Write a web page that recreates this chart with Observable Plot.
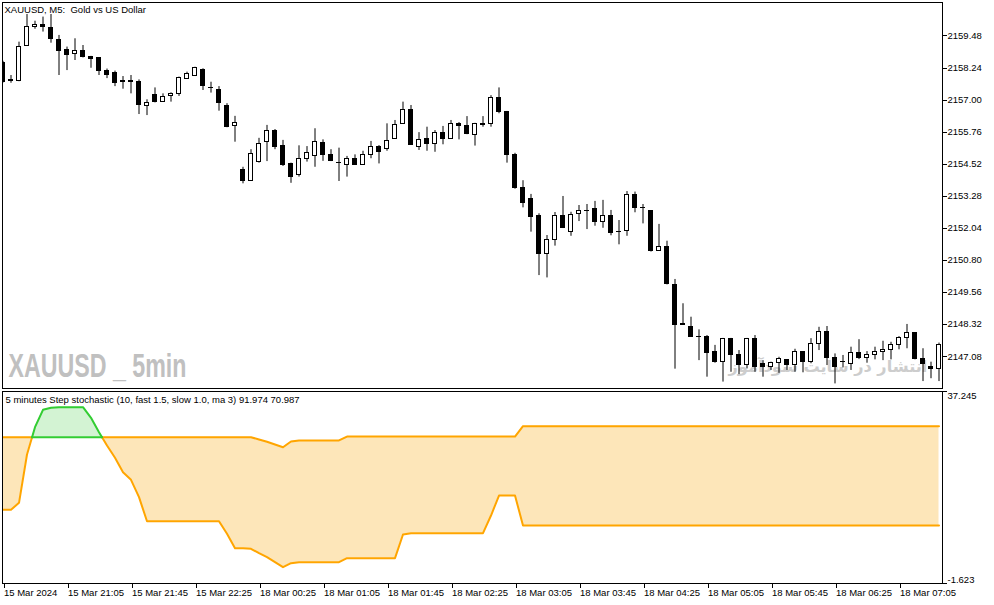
<!DOCTYPE html>
<html><head><meta charset="utf-8">
<script src="https://cdn.jsdelivr.net/npm/d3@7"></script>
<script src="https://cdn.jsdelivr.net/npm/@observablehq/plot@0.6"></script>
<style>
body{margin:0;background:#fff;}
#chart{width:994px;}
#chart svg{display:block;}
</style></head><body><div id="chart"></div>
<script>
// ---- price data (5-minute candles, index 0 = 15 Mar 20:25) ----
const open = [2158.43,2157.78,2157.73,2159.10,2159.83,2159.92,2159.80,2159.33,2158.94,2158.79,
2158.88,2158.66,2158.62,2158.14,2158.04,2157.72,2157.72,2157.68,2156.78,2157.18,
2156.93,2157.14,2157.22,2157.82,2157.94,2158.18,2157.48,2157.37,2156.78,2155.99,
2154.28,2153.88,2154.59,2155.39,2155.82,2155.24,2154.51,2154.11,2154.73,2154.84,
2155.35,2154.89,2154.57,2154.50,2154.71,2154.50,2154.88,2155.20,2155.12,2155.50,
2156.08,2156.60,2155.20,2155.48,2155.31,2155.74,2155.50,2156.08,2156.00,2155.66,
2156.05,2156.08,2157.09,2156.55,2154.89,2153.60,2153.18,2152.50,2151.05,2151.57,
2152.50,2151.89,2152.60,2152.72,2152.79,2152.30,2152.53,2151.90,2151.94,2153.34,
2152.82,2152.69,2151.18,2151.32,2149.85,2148.32,2148.24,2147.83,2147.85,2147.24,
2146.86,2147.77,2147.15,2146.76,2147.77,2146.79,2146.67,2146.83,2146.95,2146.76,
2147.25,2146.86,2147.57,2148.02,2147.03,2146.86,2146.79,2147.22,2147.03,2147.15,
2147.25,2147.34,2147.51,2147.80,2147.99,2146.99,2146.69,2146.60];
const high = [2158.50,2157.95,2159.24,2160.31,2160.05,2160.21,2160.31,2159.50,2159.05,2159.37,
2159.11,2158.69,2158.63,2158.20,2158.12,2157.91,2157.95,2157.78,2157.01,2157.47,
2157.24,2157.28,2157.89,2158.08,2158.27,2158.21,2157.69,2157.52,2156.86,2156.37,
2154.40,2155.08,2155.52,2156.02,2155.86,2155.44,2154.56,2155.23,2155.20,2155.89,
2155.46,2155.08,2155.14,2154.82,2154.88,2155.02,2155.40,2155.24,2156.08,2156.21,
2156.92,2156.79,2155.74,2155.95,2155.82,2155.98,2156.21,2156.13,2156.36,2156.10,
2156.36,2157.17,2157.47,2156.56,2154.94,2153.88,2153.35,2152.60,2151.76,2152.65,
2153.27,2152.66,2152.92,2152.96,2153.08,2153.12,2152.73,2152.34,2153.46,2153.44,
2152.96,2152.70,2152.19,2151.54,2150.06,2149.12,2148.60,2148.11,2147.89,2147.51,
2147.78,2147.78,2147.31,2147.78,2147.89,2146.92,2146.86,2147.05,2146.96,2147.36,
2147.27,2147.77,2148.21,2148.24,2147.18,2147.12,2147.44,2147.73,2147.27,2147.44,
2147.67,2147.63,2147.85,2148.32,2148.00,2147.38,2146.86,2147.60];
const low = [2157.66,2157.65,2157.71,2159.10,2159.74,2159.63,2159.20,2157.95,2158.14,2158.53,
2158.63,2158.23,2157.95,2157.83,2157.52,2157.42,2157.24,2156.44,2156.40,2156.89,
2156.91,2156.92,2157.14,2157.80,2157.91,2157.37,2157.27,2156.57,2155.93,2155.37,
2153.76,2153.88,2154.56,2154.62,2155.08,2154.43,2153.78,2154.02,2154.60,2154.40,
2154.63,2154.62,2153.85,2154.02,2154.50,2154.49,2154.73,2154.53,2155.02,2155.49,
2156.07,2155.26,2155.05,2155.02,2154.98,2155.27,2155.49,2155.46,2155.66,2155.22,
2155.95,2155.95,2156.47,2154.56,2153.55,2152.83,2151.89,2150.21,2150.12,2151.35,
2152.03,2151.73,2152.30,2151.99,2152.12,2152.04,2151.75,2151.40,2151.73,2152.64,
2152.21,2151.12,2151.18,2149.85,2146.59,2148.28,2147.82,2146.92,2146.28,2146.82,
2146.09,2146.47,2146.38,2146.60,2146.47,2146.28,2146.54,2146.43,2146.54,2146.47,
2146.45,2146.80,2147.31,2146.73,2146.02,2146.64,2146.54,2146.96,2146.82,2146.95,
2146.92,2146.95,2147.34,2147.38,2146.95,2146.11,2146.22,2146.11];
const close = [2157.71,2157.73,2159.05,2159.83,2159.92,2159.83,2159.36,2158.89,2158.75,2158.88,
2158.66,2158.57,2158.12,2157.98,2157.67,2157.70,2157.71,2156.79,2156.89,2156.92,
2157.13,2157.24,2157.86,2157.99,2158.25,2157.54,2157.46,2156.90,2155.95,2156.12,
2153.88,2154.92,2155.31,2155.82,2155.20,2154.47,2154.02,2154.73,2154.96,2155.36,
2154.88,2154.63,2154.56,2154.73,2154.50,2154.88,2155.20,2154.98,2155.40,2156.02,
2156.60,2155.27,2155.46,2155.31,2155.73,2155.49,2156.08,2156.00,2155.69,2156.08,
2156.06,2157.09,2156.55,2154.88,2153.59,2153.03,2152.47,2151.03,2151.57,2152.50,
2152.04,2152.57,2152.72,2152.71,2152.28,2152.52,2151.85,2151.91,2153.34,2152.83,
2152.81,2151.15,2151.31,2149.89,2148.31,2148.31,2147.83,2147.82,2147.22,2146.88,
2147.77,2147.15,2146.76,2147.77,2146.67,2146.67,2146.83,2146.99,2146.76,2147.26,
2146.86,2147.57,2148.02,2147.01,2146.67,2146.85,2147.22,2147.01,2147.15,2147.25,
2147.34,2147.51,2147.80,2147.99,2146.99,2146.80,2146.59,2147.51];

// ---- Step stochastic lines (values on the sub-window scale) ----
const fastLine = [13.30,13.30,14.71,24.49,30.02,33.54,33.95,34.07,34.07,34.07,
34.07,31.92,29.01,26.31,23.82,20.91,19.37,15.85,10.99,10.99,
10.99,10.99,10.99,10.99,10.99,10.99,10.99,10.99,8.44,5.52,
5.52,5.40,4.51,3.70,2.69,1.68,2.49,2.69,2.69,2.69,
2.69,2.69,2.69,3.50,3.50,3.50,3.50,3.50,3.50,3.50,
8.30,8.56,8.56,8.56,8.56,8.56,8.56,8.56,8.56,8.56,
8.56,12.14,16.19,16.19,16.19,10.12,10.12,10.12,10.12,10.12,
10.12,10.12,10.12,10.12,10.12,10.12,10.12,10.12,10.12,10.12,
10.12,10.12,10.12,10.12,10.12,10.12,10.12,10.12,10.12,10.12,
10.12,10.12,10.12,10.12,10.12,10.12,10.12,10.12,10.12,10.12,
10.12,10.12,10.12,10.12,10.12,10.12,10.12,10.12,10.12,10.12,
10.12,10.12,10.12,10.12,10.12,10.12,10.12,10.12];
const slowLine = [27.99,27.99,27.99,27.99,27.99,27.99,27.99,27.99,27.99,27.99,
27.99,27.99,27.99,27.99,27.99,27.99,27.99,27.99,27.99,27.99,
27.99,27.99,27.99,27.99,27.99,27.99,27.99,27.99,27.99,27.99,
27.99,27.99,27.53,27.06,26.52,25.97,27.12,27.33,27.33,27.33,
27.33,27.33,27.33,28.13,28.13,28.13,28.13,28.13,28.13,28.13,
28.13,28.13,28.13,28.13,28.13,28.13,28.13,28.13,28.13,28.13,
28.13,28.13,28.13,28.13,28.13,30.22,30.22,30.22,30.22,30.22,
30.22,30.22,30.22,30.22,30.22,30.22,30.22,30.22,30.22,30.22,
30.22,30.22,30.22,30.22,30.22,30.22,30.22,30.22,30.22,30.22,
30.22,30.22,30.22,30.22,30.22,30.22,30.22,30.22,30.22,30.22,
30.22,30.22,30.22,30.22,30.22,30.22,30.22,30.22,30.22,30.22,
30.22,30.22,30.22,30.22,30.22,30.22,30.22,30.22];

// ---- axis ticks & labels ----
const priceTicks = [2147.08,2148.32,2149.56,2150.80,2152.04,2153.28,2154.52,2155.76,2157.00,2158.24,2159.48];
const stochTicks = [37.245,-1.623];
const timeTickIdx = [0,8,16,24,32,40,48,56,64,72,80,88,96,104,112];
const timeLabels = ["15 Mar 2024","15 Mar 21:05","15 Mar 21:45","15 Mar 22:25","18 Mar 00:25","18 Mar 01:05",
"18 Mar 01:45","18 Mar 02:25","18 Mar 03:05","18 Mar 03:45","18 Mar 04:25","18 Mar 05:05","18 Mar 05:45",
"18 Mar 06:25","18 Mar 07:05"];
const titleText = "XAUUSD, M5:\u00a0 Gold vs US Dollar";
const stochText = "5 minutes Step stochastic (10, fast 1.5, slow 1.0, ma 3) 91.974 70.987";
const wmText = "XAUUSD _ 5min";
const wmFa = "انتشار در سایت سودآموز";

// ---- derived tables ----
const candles = open.map((o,i)=>({i, open:o, high:high[i], low:low[i], close:close[i]}));
const bull = candles.filter(d=>d.close>d.open);
const bear = candles.filter(d=>d.close<=d.open);

function buildRuns(a,b){
  const pts=[]; let run=0; let up=a[0]>b[0];
  pts.push({x:0,a:a[0],b:b[0],run,up});
  for(let i=1;i<a.length;i++){
    const u=a[i]>b[i];
    if(u!==up){
      const d0=a[i-1]-b[i-1], d1=a[i]-b[i];
      const t=d0/(d0-d1);
      const yc=a[i-1]+t*(a[i]-a[i-1]);
      pts.push({x:i-1+t,a:yc,b:yc,run,up});
      run++; up=u;
      pts.push({x:i-1+t,a:yc,b:yc,run,up});
    }
    pts.push({x:i,a:a[i],b:b[i],run,up});
  }
  return pts;
}
const runs = buildRuns(fastLine, slowLine);
const greenPts = runs.filter(d=>d.up), orangePts = runs.filter(d=>!d.up);

const FONT = "Liberation Sans, Arial, sans-serif";
const W = 994;
const xDomain = [-0.0625, 117.4375];
const ORANGE="#ffa500", ORANGE_FILL="#fde6b9", GREEN="#32cd32", GREEN_FILL="#d3f3d3";

const topPane = Plot.plot({
  width:W, height:390, marginLeft:2, marginRight:52, marginTop:2, marginBottom:2,
  style:{background:"white", fontFamily:FONT, fontSize:"9.5px", color:"black", overflow:"visible"},
  x:{type:"linear", domain:xDomain, axis:null},
  y:{type:"linear", domain:[2145.842, 2160.774], label:null},
  marks:[
    Plot.text([wmText],{frameAnchor:"bottom-left", dx:6, dy:-22, text:d=>d, fill:"#c0c0c0", fontSize:33, fontWeight:"bold", fontFamily:FONT, textAnchor:"start", lineAnchor:"middle", ariaDescription:"wm1"}),
    Plot.text([wmFa],{frameAnchor:"bottom-left", dx:726, dy:-22, text:d=>d, fill:"#cdcdcd", fontSize:26, fontWeight:"bold", fontFamily:"DejaVu Sans", textAnchor:"start", lineAnchor:"middle", ariaDescription:"wm2"}),
    Plot.ruleX(candles,{x:"i", y1:"low", y2:"high", stroke:"black", strokeWidth:1, clip:true}),
    Plot.rect(bull,{x1:d=>d.i-0.25, x2:d=>d.i+0.25, y1:"open", y2:"close", fill:"white", stroke:"black", strokeWidth:1, shapeRendering:"crispEdges", clip:true}),
    Plot.rect(bear,{x1:d=>d.i-0.25, x2:d=>d.i+0.25, y1:"open", y2:"close", fill:"black", stroke:"black", strokeWidth:1, shapeRendering:"crispEdges", clip:true}),
    Plot.frame({stroke:"black", shapeRendering:"crispEdges"}),
    Plot.axisY({anchor:"right", ticks:priceTicks, tickFormat:d3.format(".2f"), tickSize:4, tickPadding:1, fontSize:9.5, label:null, shapeRendering:"crispEdges"}),
    Plot.text([titleText],{frameAnchor:"top-left", dx:2, dy:4, text:d=>d, fill:"black", fontSize:9.5, textAnchor:"start", lineAnchor:"top"})
  ]
});

const bottomPane = Plot.plot({
  width:W, height:215, marginLeft:2, marginRight:52, marginTop:1, marginBottom:22,
  style:{background:"white", fontFamily:FONT, fontSize:"9.5px", color:"black", overflow:"visible"},
  x:{type:"linear", domain:xDomain, label:null},
  y:{type:"linear", domain:[-1.623, 37.245], label:null},
  marks:[
    Plot.areaY(orangePts,{x:"x", y1:"a", y2:"b", z:"run", fill:ORANGE_FILL}),
    Plot.areaY(greenPts,{x:"x", y1:"a", y2:"b", z:"run", fill:GREEN_FILL}),
    Plot.line(orangePts,{x:"x", y:"a", z:"run", stroke:ORANGE, strokeWidth:2}),
    Plot.line(orangePts,{x:"x", y:"b", z:"run", stroke:ORANGE, strokeWidth:2}),
    Plot.line(greenPts,{x:"x", y:"a", z:"run", stroke:GREEN, strokeWidth:2}),
    Plot.line(greenPts,{x:"x", y:"b", z:"run", stroke:GREEN, strokeWidth:2}),
    Plot.frame({stroke:"black", shapeRendering:"crispEdges"}),
    Plot.axisX({anchor:"bottom", ticks:timeTickIdx, tickFormat:d=>timeLabels[timeTickIdx.indexOf(d)], tickSize:5, tickPadding:1, textAnchor:"start", dx:1, fontSize:9.5, label:null, shapeRendering:"crispEdges"}),
    Plot.axisY({anchor:"right", ticks:stochTicks, tickFormat:()=>"", tickSize:4, label:null, shapeRendering:"crispEdges"}),
    Plot.text([stochTicks[0]],{y:d=>d, frameAnchor:"right", dx:5, dy:4, text:()=>"37.245", fill:"black", fontSize:9.5, textAnchor:"start"}),
    Plot.text([stochTicks[1]],{y:d=>d, frameAnchor:"right", dx:5, dy:-4, text:()=>"-1.623", fill:"black", fontSize:9.5, textAnchor:"start"}),
    Plot.text([stochText],{frameAnchor:"top-left", dx:3, dy:5, text:d=>d, fill:"black", fontSize:9.5, textAnchor:"start", lineAnchor:"top"})
  ]
});

const chart = document.getElementById("chart");
chart.appendChild(topPane);
chart.appendChild(bottomPane);

d3.select(topPane).selectAll('g[aria-description="wm1"] text').attr("textLength",178).attr("lengthAdjust","spacingAndGlyphs");
// fit the Persian watermark to the reference width by font size (no glyph stretching)
d3.select(topPane).selectAll('g[aria-description="wm2"] text').each(function(){
  const L = this.getComputedTextLength();
  if (L > 0) this.setAttribute("font-size", (26 * 199 / L).toFixed(2));
});
</script></body></html>
